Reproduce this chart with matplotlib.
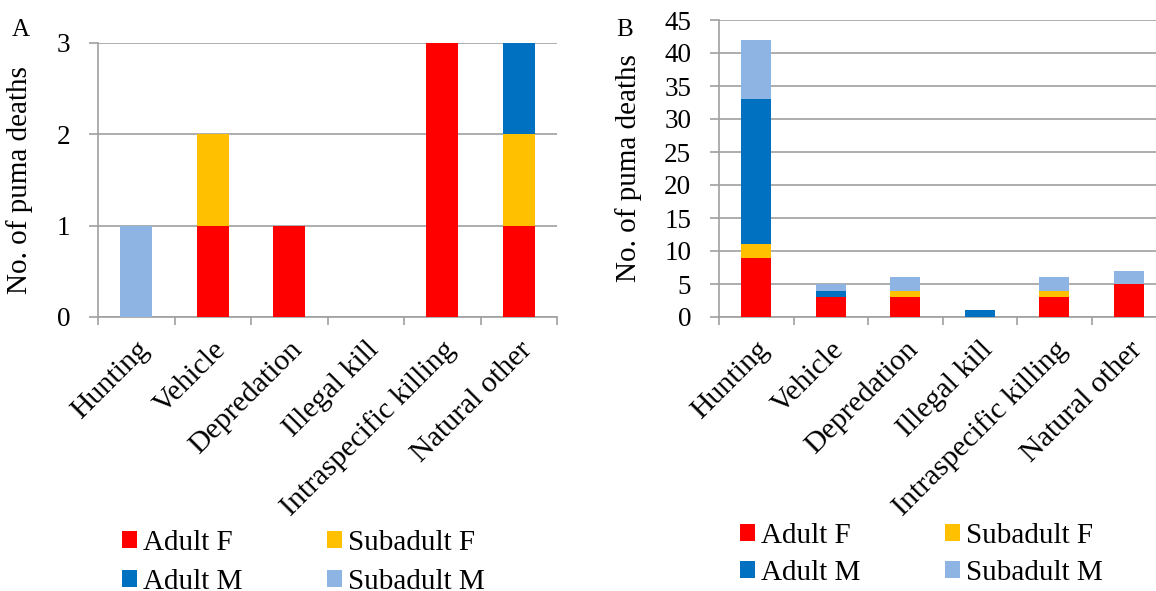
import numpy as np
import matplotlib
matplotlib.use("Agg")
import matplotlib.pyplot as plt
from matplotlib.patches import Patch
from matplotlib.transforms import ScaledTranslation

plt.rcParams['font.family'] = ['Liberation Serif', 'DejaVu Serif']

# causes of death (x categories)
causes = ["Hunting", "Vehicle", "Depredation", "Illegal kill",
          "Intraspecific killing", "Natural other"]
classes = ["Adult F", "Subadult F", "Adult M", "Subadult M"]
colors = ["#FF0000", "#FFC000", "#0070C0", "#8EB4E3"]

# panel A counts per class
a_adult_f = [0, 1, 1, 0, 3, 1]
a_sub_f = [0, 1, 0, 0, 0, 1]
a_adult_m = [0, 0, 0, 0, 0, 1]
a_sub_m = [1, 0, 0, 0, 0, 0]

# panel B counts per class
b_adult_f = [9, 3, 3, 0, 3, 5]
b_sub_f = [2, 0, 1, 0, 1, 0]
b_adult_m = [22, 1, 0, 1, 0, 0]
b_sub_m = [9, 1, 2, 0, 2, 2]

a_ticks = [0, 1, 2, 3]
b_ticks = list(range(0, 50, 5))

GRID = "#A0A0A0"
W, H = 1156, 591


def stacked(fig, ax, series, width, yticks):
    x = np.arange(len(causes))
    bottom = np.zeros(len(causes))
    for vals, c in zip(series, colors):
        vals = np.array(vals, dtype=float)
        ax.bar(x, vals, width, bottom=bottom, color=c, edgecolor="none", zorder=3)
        bottom += vals
    ax.set_xlim(-0.5, len(causes) - 0.5)
    ax.set_ylim(yticks[0], yticks[-1])
    ax.set_yticks(yticks)
    ax.yaxis.grid(True, color=GRID, linewidth=1.2, zorder=0)
    ax.set_axisbelow(True)
    for s in ["top", "right"]:
        ax.spines[s].set_visible(False)
    for s in ["left", "bottom"]:
        ax.spines[s].set_color(GRID)
        ax.spines[s].set_linewidth(1.2)
    ax.set_xticks(x)
    ax.set_xticklabels(causes, rotation=45, ha="right", rotation_mode="anchor",
                       fontsize=21.5)
    # nudge the slanted labels a little to the left
    shift = ScaledTranslation(-4 / 100, 0, fig.dpi_scale_trans)
    for lab in ax.get_xticklabels():
        lab.set_transform(lab.get_transform() + shift)
    ax.set_xticks(np.arange(-0.5, len(causes)), minor=True)
    ax.tick_params(axis="x", which="major", length=0, pad=14)
    ax.tick_params(axis="x", which="minor", length=6, width=1.2, color=GRID)
    ax.tick_params(axis="y", length=6.5, width=1.2, color=GRID, labelsize=19.5, pad=13.5)
    ax.set_ylabel("No. of puma deaths", fontsize=21)


fig = plt.figure(figsize=(W / 100, H / 100), dpi=100)

axA = fig.add_axes([98 / W, 1 - 317 / H, 459 / W, 274 / H])
stacked(fig, axA, [a_adult_f, a_sub_f, a_adult_m, a_sub_m], 0.42, a_ticks)
axA.yaxis.set_label_coords(-0.142, 0.5)

axB = fig.add_axes([719 / W, 1 - 317 / H, 447 / W, 297 / H])
stacked(fig, axB, [b_adult_f, b_sub_f, b_adult_m, b_sub_m], 0.40, b_ticks)
axB.yaxis.set_label_coords(-0.172, 0.5)

fig.text(12 / W, 1 - 36 / H, "A", fontsize=18)
fig.text(616 / W, 1 - 36 / H, "B", fontsize=18)

# legend fills column-wise, so order entries to read row-wise
order = [0, 2, 1, 3]
handles = [Patch(facecolor=colors[i], edgecolor="none") for i in order]
labels = [classes[i] for i in order]
for x0, y0, sp in [(122, 530, 0.43), (740, 523, 0.36)]:
    fig.legend(handles, labels, loc="upper left", bbox_to_anchor=(x0 / W, 1 - y0 / H),
               ncol=2, frameon=False, fontsize=21, borderpad=0, borderaxespad=0,
               handlelength=0.52, handleheight=0.52, handletextpad=0.2,
               columnspacing=2.9, labelspacing=sp)

fig.savefig("out.png", dpi=100)
